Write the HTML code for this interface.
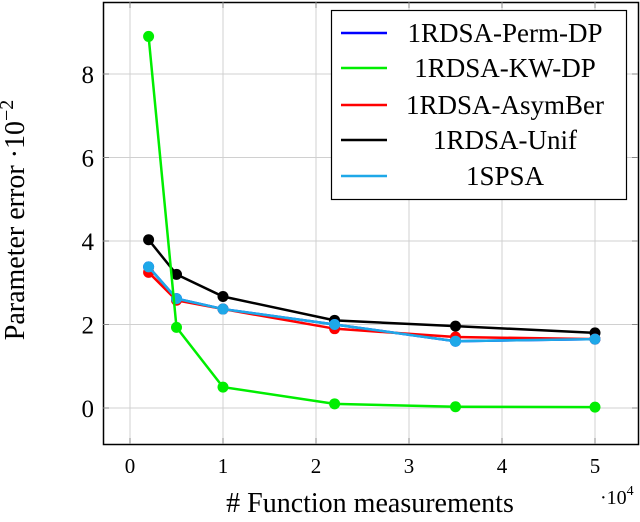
<!DOCTYPE html>
<html><head><meta charset="utf-8"><style>
body{margin:0;background:#fff}
svg text{font-family:"Liberation Serif",serif;fill:#000}
</style></head><body>
<svg width="640" height="517" viewBox="0 0 640 517">
<g id="grid"></g>
<g id="series"></g>
<rect x="103.5" y="2.5" width="535" height="442" fill="none" stroke="#000" stroke-width="1.5"/>
<g id="ticks"></g>
<text x="370" y="512" font-size="28" text-anchor="middle"># Function measurements</text>
<text x="600" y="504" font-size="20">·10<tspan dy="-9" font-size="14">4</tspan></text>
<text transform="translate(24,220) rotate(-90)" font-size="28" text-anchor="middle">Parameter error ·10<tspan dy="-11" font-size="20">−2</tspan></text>
<g>
<rect x="331.5" y="10.5" width="295" height="189" fill="#fff" stroke="#000" stroke-width="1.2"/>
<g id="legend"></g>
</g>
</svg>
<script>
const xVals=[0.2,0.5,1,2.2,3.5,5];
const permDP=[3.38,2.62,2.37,2.0,1.6,1.65];
const kwDP=[8.9,1.93,0.5,0.1,0.03,0.02];
const asymBer=[3.25,2.58,2.37,1.9,1.7,1.65];
const unif=[4.03,3.2,2.67,2.1,1.96,1.8];
const spsa=[3.38,2.62,2.37,2.0,1.6,1.65];
const xTicks=[0,1,2,3,4,5];
const yTicks=[0,2,4,6,8];
const legendLabels=["1RDSA-Perm-DP","1RDSA-KW-DP","1RDSA-AsymBer","1RDSA-Unif","1SPSA"];
const colors=["#0000ff","#00ee00","#ff0000","#000000","#1ea8e8"];
const sx=v=>130+v*93, sy=v=>408-v*41.75;
const NS="http://www.w3.org/2000/svg";
function mk(t,a,p){const e=document.createElementNS(NS,t);for(const k in a)e.setAttribute(k,a[k]);p.appendChild(e);return e;}
const grid=document.getElementById('grid'),ticks=document.getElementById('ticks');
xTicks.forEach(t=>{const x=sx(t);
 const g=mk('line',{x1:x,x2:x,y1:2,y2:444,stroke:'#d0d0d0','stroke-width':1},grid);
 
 mk('line',{x1:x,x2:x,y1:444,y2:438,stroke:'#888'},ticks);
 mk('line',{x1:x,x2:x,y1:2,y2:8,stroke:'#888'},ticks);
 const l=mk('text',{x:x,y:473,'font-size':21,'text-anchor':'middle'},ticks);l.textContent=t;
 });
yTicks.forEach(t=>{const y=sy(t);
 const g=mk('line',{x1:103,x2:638,y1:y,y2:y,stroke:'#d0d0d0','stroke-width':1},grid);
 
 mk('line',{x1:103,x2:109,y1:y,y2:y,stroke:'#888'},ticks);
 mk('line',{x1:632,x2:638,y1:y,y2:y,stroke:'#888'},ticks);
 const l=mk('text',{x:94,y:y+9,'font-size':25,'text-anchor':'end'},ticks);l.textContent=t;
 });
const all=[permDP,kwDP,asymBer,unif,spsa];
const order=[3,0,2,4,1];
const sg=document.getElementById('series');
order.forEach(i=>{const d=all[i];
 const g=mk('g',{},sg);
 
 
 mk('polyline',{points:d.map((v,j)=>sx(xVals[j])+','+sy(v)).join(' '),fill:'none',stroke:colors[i],'stroke-width':2.5},g);
 d.forEach((v,j)=>{const c=mk('circle',{cx:sx(xVals[j]),cy:sy(v),r:5.5,fill:colors[i]},g);
  });});
const lg=document.getElementById('legend');
const ly=[33,68,105,140,176];
legendLabels.forEach((n,i)=>{
 const g=mk('g',{},lg);
 
 
 mk('line',{x1:341,x2:387,y1:ly[i],y2:ly[i],stroke:colors[i],'stroke-width':2.5},g);
 const t=mk('text',{x:505,y:ly[i]+9,'font-size':27,'text-anchor':'middle',textLength:0},g);t.removeAttribute('textLength');t.textContent=n;});
</script>
</body></html>
